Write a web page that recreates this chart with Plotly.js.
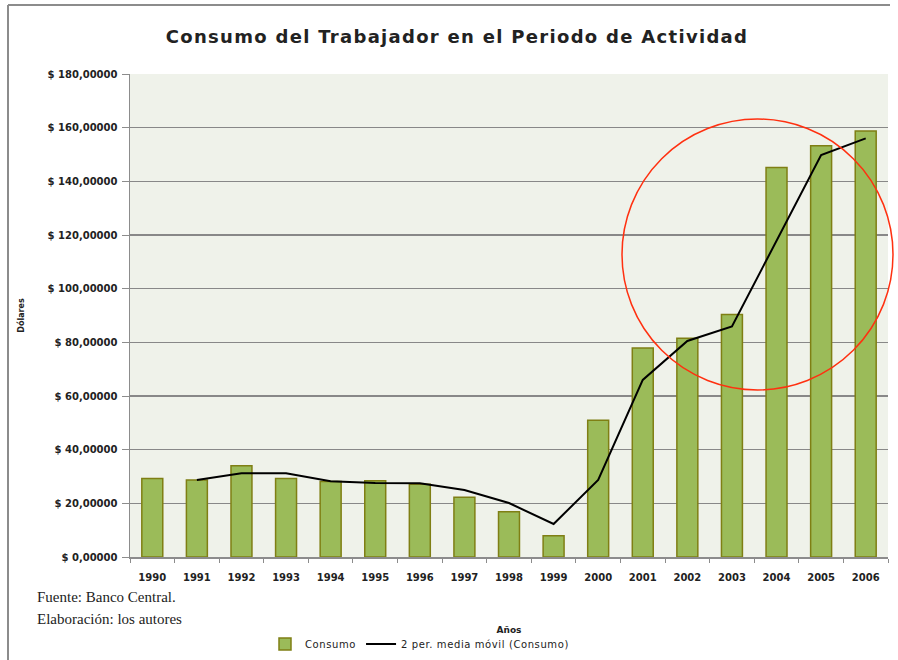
<!DOCTYPE html>
<html>
<head>
<meta charset="utf-8">
<script src="https://cdn.plot.ly/plotly-3.0.1.min.js"></script>
<style>
  html, body { margin: 0; padding: 0; background: #ffffff; }
  #chart { width: 898px; height: 660px; }
  .gtitle { letter-spacing: 1.3px; }
  .legendtext { letter-spacing: 0.6px; }
</style>
</head>
<body>
<div id="chart"></div>
<script>
// ---- Data ----
const years = ["1990","1991","1992","1993","1994","1995","1996","1997","1998","1999","2000","2001","2002","2003","2004","2005","2006"];
const consumo = [29300, 28700, 34000, 29300, 28100, 28400, 27100, 22300, 16900, 7900, 51000, 77900, 81500, 90400, 145200, 153300, 158800];
const mediaYears = ["1991","1992","1993","1994","1995","1996","1997","1998","1999","2000","2001","2002","2003","2004","2005","2006"];
const mediaMovil = [28700, 31200, 31200, 28200, 27600, 27500, 25000, 20100, 12300, 28700, 66000, 80500, 85900, 118000, 149800, 156000];
const yTickVals = [0, 20000, 40000, 60000, 80000, 100000, 120000, 140000, 160000, 180000];
const yTickText = ["$ 0,00000","$ 20,00000","$ 40,00000","$ 60,00000","$ 80,00000","$ 100,00000","$ 120,00000","$ 140,00000","$ 160,00000","$ 180,00000"];

// ---- Geometry helpers (pixel -> paper) ----
const L = 130, R = 10, T = 74, B = 103, W = 898, H = 660;
const pw = W - L - R, ph = H - T - B;
const px = x => (x - L) / pw;
const py = y => (H - B - y) / ph;

const traces = [
  {
    type: 'bar',
    name: 'Consumo',
    x: years,
    y: consumo,
    marker: { color: '#9bbb59', line: { color: '#7f7f14', width: 1.5 } },
    hoverinfo: 'x+y'
  },
  {
    type: 'scatter',
    mode: 'lines',
    name: '2 per. media móvil (Consumo)',
    x: mediaYears,
    y: mediaMovil,
    line: { color: '#000000', width: 2 }
  }
];

const tickFont = { family: 'DejaVu Sans', size: 10, color: '#222222', weight: 'bold' };

const layout = {
  width: W, height: H,
  margin: { l: L, r: R, t: T, b: B, pad: 0, autoexpand: false },
  paper_bgcolor: '#ffffff',
  plot_bgcolor: '#eff2ea',
  bargap: 0.53,
  showlegend: true,
  title: {
    text: 'Consumo del Trabajador en el Periodo de Actividad',
    font: { family: 'DejaVu Sans', size: 18, color: '#222222', weight: 'bold' },
    x: px(457), xanchor: 'center', xref: 'paper',
    y: 1 - 37 / H, yanchor: 'middle'
  },
  xaxis: {
    type: 'category',
    range: [-0.5, 16.5],
    automargin: false,
    showline: true, linecolor: '#8c8c8c', linewidth: 1.5,
    ticks: 'outside', ticklen: 4, tickcolor: '#8c8c8c', tickwidth: 1,
    tickson: 'boundaries',
    ticklabelstandoff: 10,
    tickfont: tickFont,
    showgrid: false, zeroline: false,
    title: { text: 'Años', font: { family: 'DejaVu Sans', size: 9, color: '#222222', weight: 'bold' }, standoff: 45 }
  },
  yaxis: {
    range: [0, 180000],
    automargin: false,
    tickvals: yTickVals, ticktext: yTickText,
    showline: true, linecolor: '#8c8c8c', linewidth: 1.5,
    ticks: 'outside', ticklen: 7, tickcolor: '#8c8c8c', tickwidth: 1,
    ticklabelstandoff: 2,
    tickfont: tickFont,
    showgrid: true, gridcolor: '#888888', gridwidth: 1.5,
    zeroline: false,
    title: { text: 'Dólares', font: { family: 'DejaVu Sans', size: 8, color: '#222222', weight: 'bold' }, standoff: 22 }
  },
  legend: {
    orientation: 'h',
    x: px(265), xanchor: 'left',
    y: py(644), yanchor: 'middle',
    font: { family: 'DejaVu Sans', size: 10, color: '#222222' },
    bgcolor: 'rgba(0,0,0,0)',
    itemwidth: 30
  },
  annotations: [
    { xref: 'paper', yref: 'paper', x: px(35), y: py(597), xanchor: 'left', yanchor: 'middle', showarrow: false,
      text: 'Fuente: Banco Central.', font: { family: 'Liberation Serif', size: 15, color: '#222222' } },
    { xref: 'paper', yref: 'paper', x: px(35), y: py(619), xanchor: 'left', yanchor: 'middle', showarrow: false,
      text: 'Elaboración: los autores', font: { family: 'Liberation Serif', size: 15, color: '#222222' } }
  ],
  shapes: [
    { type: 'line', xref: 'paper', yref: 'paper', x0: px(8), x1: px(8), y0: py(5), y1: py(660), line: { color: '#8c8c8c', width: 2 } },
    { type: 'line', xref: 'paper', yref: 'paper', x0: px(8), x1: px(890), y0: py(5), y1: py(5), line: { color: '#8c8c8c', width: 2 } },
    { type: 'circle', xref: 'paper', yref: 'paper', x0: px(622), x1: px(893), y0: py(390), y1: py(119), line: { color: '#ff3010', width: 1.5 } }
  ]
};

Plotly.newPlot('chart', traces, layout, { displayModeBar: false, staticPlot: true });
</script>
</body>
</html>
